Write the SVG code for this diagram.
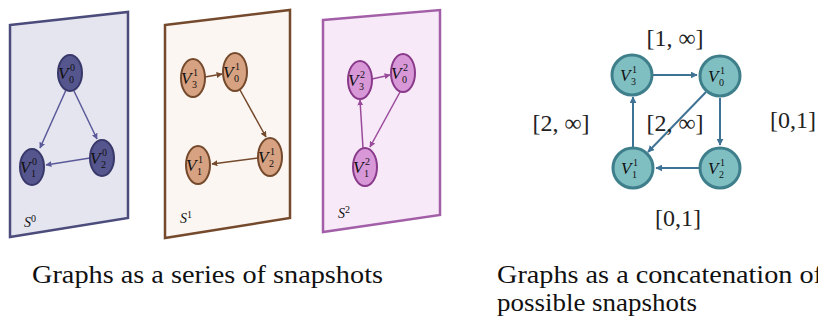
<svg xmlns="http://www.w3.org/2000/svg" width="818" height="324" viewBox="0 0 818 324">
<defs>
<marker id="a0" viewBox="0 0 10 10" refX="9" refY="5" markerWidth="4" markerHeight="4" orient="auto"><path d="M0,0L10,5L0,10z" fill="#5a5a9a"/></marker>
<marker id="a1" viewBox="0 0 10 10" refX="9" refY="5" markerWidth="4" markerHeight="4" orient="auto"><path d="M0,0L10,5L0,10z" fill="#74492c"/></marker>
<marker id="a2" viewBox="0 0 10 10" refX="9" refY="5" markerWidth="4" markerHeight="4" orient="auto"><path d="M0,0L10,5L0,10z" fill="#9a4a9a"/></marker>
<marker id="a3" viewBox="0 0 10 10" refX="9" refY="5" markerWidth="3.5" markerHeight="3.5" orient="auto"><path d="M0,0L10,5L0,10z" fill="#3f7396"/></marker>
</defs>
<style>
text{font-family:'Liberation Serif','Times New Roman',Times,serif}
.m{font-style:italic;fill:#111}
.V{font-size:17px}
.s{font-size:10px;font-style:normal}
.lbl{font-size:24px;fill:#222}
.cap{font-size:25px;fill:#111}
.p0{fill:#e5e5ef;stroke:#4c4c7c;stroke-width:2.5}
.p1{fill:#fbf6f2;stroke:#74492c;stroke-width:2.5}
.p2{fill:#f7e9f7;stroke:#a25fa8;stroke-width:2.5}
.n0{fill:#56568f;stroke:#38386a;stroke-width:2}
.n1{fill:#d6a282;stroke:#74492c;stroke-width:2}
.n2{fill:#d898d8;stroke:#8a3a8a;stroke-width:2}
.n3{fill:#80bfc1;stroke:#3f7f8c;stroke-width:3}
.e0{stroke:#5a5a9a;stroke-width:1.5;fill:none;marker-end:url(#a0)}
.e1{stroke:#74492c;stroke-width:1.5;fill:none;marker-end:url(#a1)}
.e2{stroke:#9a4a9a;stroke-width:1.5;fill:none;marker-end:url(#a2)}
.e3{stroke:#3f7396;stroke-width:2;fill:none;marker-end:url(#a3)}
</style>

<g id="panel0">
<polygon class="p0" points="10,25 128,12 128,218 10,237"/>
<text class="m" x="24" y="227" font-size="14">S<tspan class="s" dy="-5">0</tspan></text>
</g>
<g id="panel1">
<polygon class="p1" points="165,25 290,10 290,218 165,238"/>
<text class="m" x="180" y="223" font-size="14">S<tspan class="s" dy="-5">1</tspan></text>
</g>
<g id="panel2">
<polygon class="p2" points="323,20 440,10 440,215 323,232"/>
<text class="m" x="338" y="218" font-size="14">S<tspan class="s" dy="-5">2</tspan></text>
</g>

<g id="connectors">
<line class="e0" x1="66" y1="90" x2="40" y2="148"/>
<line class="e0" x1="74" y1="91" x2="97" y2="139"/>
<line class="e0" x1="90" y1="158" x2="46" y2="165"/>
<line class="e1" x1="205" y1="77" x2="222" y2="74"/>
<line class="e1" x1="240" y1="90" x2="266" y2="137"/>
<line class="e1" x1="258" y1="158" x2="212" y2="164"/>
<line class="e2" x1="372" y1="79" x2="390" y2="75"/>
<line class="e2" x1="400" y1="92" x2="370" y2="147"/>
<line class="e2" x1="363" y1="148" x2="360" y2="100"/>
<line class="e3" x1="653" y1="75" x2="697" y2="75"/>
<line class="e3" x1="720" y1="98" x2="720" y2="145"/>
<line class="e3" x1="699" y1="168" x2="656" y2="168"/>
<line class="e3" x1="633" y1="147" x2="633" y2="97"/>
<line class="e3" x1="706" y1="92" x2="648" y2="152"/>
</g>

<g id="s0v0"><ellipse class="n0" cx="70" cy="73" rx="12" ry="18"/><text class="m V" x="58" y="79">V</text><text class="m s" x="70" y="71">0</text><text class="m s" x="69" y="83">0</text></g>
<g id="s0v1"><ellipse class="n0" cx="32" cy="167" rx="12" ry="18"/><text class="m V" x="20" y="173">V</text><text class="m s" x="32" y="165">0</text><text class="m s" x="31" y="177">1</text></g>
<g id="s0v2"><ellipse class="n0" cx="102" cy="158" rx="12" ry="18"/><text class="m V" x="90" y="164">V</text><text class="m s" x="102" y="156">0</text><text class="m s" x="101" y="168">2</text></g>

<g id="s1v3"><ellipse class="n1" cx="193" cy="78" rx="12" ry="19"/><text class="m V" x="181" y="84">V</text><text class="m s" x="193" y="76">1</text><text class="m s" x="192" y="88">3</text></g>
<g id="s1v0"><ellipse class="n1" cx="235" cy="72" rx="12" ry="19"/><text class="m V" x="223" y="78">V</text><text class="m s" x="235" y="70">1</text><text class="m s" x="234" y="82">0</text></g>
<g id="s1v2"><ellipse class="n1" cx="270" cy="157" rx="12" ry="19"/><text class="m V" x="258" y="163">V</text><text class="m s" x="270" y="155">1</text><text class="m s" x="269" y="167">2</text></g>
<g id="s1v1"><ellipse class="n1" cx="198" cy="165" rx="12" ry="19"/><text class="m V" x="186" y="171">V</text><text class="m s" x="198" y="163">1</text><text class="m s" x="197" y="175">1</text></g>

<g id="s2v3"><ellipse class="n2" cx="360" cy="80" rx="12" ry="19"/><text class="m V" x="348" y="86">V</text><text class="m s" x="360" y="78">2</text><text class="m s" x="359" y="90">3</text></g>
<g id="s2v0"><ellipse class="n2" cx="403" cy="73" rx="12" ry="19"/><text class="m V" x="391" y="79">V</text><text class="m s" x="403" y="71">2</text><text class="m s" x="402" y="83">0</text></g>
<g id="s2v1"><ellipse class="n2" cx="365" cy="167" rx="12" ry="19"/><text class="m V" x="353" y="173">V</text><text class="m s" x="365" y="165">2</text><text class="m s" x="364" y="177">1</text></g>

<g id="cv3"><circle class="n3" cx="632" cy="75" r="20"/><text class="m V" x="620" y="81">V</text><text class="m s" x="632" y="73">1</text><text class="m s" x="631" y="85">3</text></g>
<g id="cv0"><circle class="n3" cx="720" cy="76" r="20"/><text class="m V" x="708" y="82">V</text><text class="m s" x="720" y="74">1</text><text class="m s" x="719" y="86">0</text></g>
<g id="cv1"><circle class="n3" cx="633" cy="168" r="20"/><text class="m V" x="621" y="174">V</text><text class="m s" x="633" y="166">1</text><text class="m s" x="632" y="178">1</text></g>
<g id="cv2"><circle class="n3" cx="720" cy="168" r="20"/><text class="m V" x="708" y="174">V</text><text class="m s" x="720" y="166">1</text><text class="m s" x="719" y="178">2</text></g>

<g id="labels">
<text class="lbl" x="675" y="46" text-anchor="middle">[1, ∞]</text>
<text class="lbl" x="561" y="131" text-anchor="middle">[2, ∞]</text>
<text class="lbl" x="675" y="131" text-anchor="middle">[2, ∞]</text>
<text class="lbl" x="793" y="128" text-anchor="middle">[0,1]</text>
<text class="lbl" x="678" y="226" text-anchor="middle">[0,1]</text>
</g>

<g id="captions">
<text class="cap" x="32" y="283" textLength="351" lengthAdjust="spacingAndGlyphs">Graphs as a series of snapshots</text>
<text class="cap" x="497" y="283" textLength="326" lengthAdjust="spacingAndGlyphs">Graphs as a concatenation of</text>
<text class="cap" x="497" y="311" textLength="200" lengthAdjust="spacingAndGlyphs">possible snapshots</text>
</g>
</svg>
